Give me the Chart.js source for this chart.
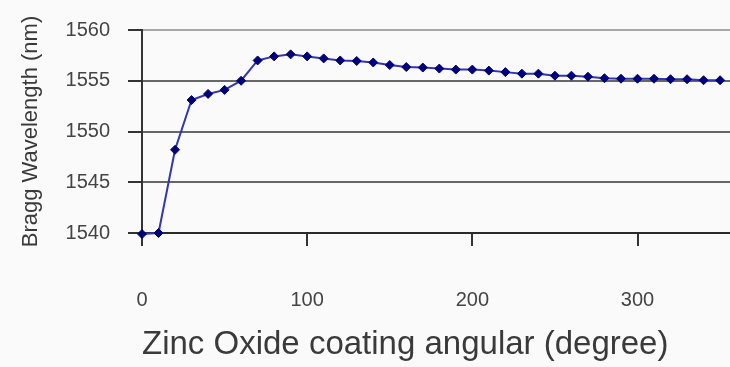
<!DOCTYPE html>
<html>
<head>
<meta charset="utf-8">
<script src="https://cdn.jsdelivr.net/npm/chart.js@4"></script>
<style>
  html, body { margin: 0; padding: 0; background: #fafafa; }
  #wrap { width: 730px; height: 367px; position: relative; }
</style>
</head>
<body>
<div id="wrap"><canvas id="braggChart"></canvas></div>
<script>
// coating angle (degree) and measured Bragg wavelength (nm)
const angles = [0, 10, 20, 30, 40, 50, 60, 70, 80, 90, 100, 110, 120, 130, 140, 150, 160, 170,
  180, 190, 200, 210, 220, 230, 240, 250, 260, 270, 280, 290, 300, 310, 320, 330, 340, 350];
const wavelengths = [1539.9, 1540.0, 1548.2, 1553.1, 1553.7, 1554.1, 1555.0, 1557.0, 1557.4, 1557.6,
  1557.4, 1557.2, 1557.0, 1556.95, 1556.8, 1556.55, 1556.35, 1556.3, 1556.2, 1556.1, 1556.1, 1556.0,
  1555.85, 1555.7, 1555.7, 1555.5, 1555.5, 1555.4, 1555.25, 1555.2, 1555.2, 1555.2, 1555.15, 1555.15,
  1555.05, 1555.05];
const xTicks = [0, 100, 200, 300];
const yTicks = [1540, 1545, 1550, 1555, 1560];

const points = angles.map((a, i) => ({ x: a, y: wavelengths[i] }));
const font = "'Liberation Sans', Arial, sans-serif";

function gridColor(ctx) {
  const v = ctx.tick && ctx.tick.value;
  if (v === 1560) return "#a8a8a8";
  if (v === 1540) return "#2a2a2a";
  return "#666666";
}

new Chart(document.getElementById("braggChart"), {
  type: "scatter",
  data: {
    datasets: [{
      data: points,
      showLine: true,
      borderColor: "#3535b0",
      borderWidth: 2,
      pointStyle: "rectRot",
      pointRadius: 4.5,
      pointBackgroundColor: "#000078",
      pointBorderColor: "#000078",
      pointBorderWidth: 1,
      clip: false
    }]
  },
  options: {
    responsive: true,
    maintainAspectRatio: false,
    animation: false,
    layout: { autoPadding: false, padding: { top: 20, right: 0, left: 0, bottom: 0 } },
    plugins: { legend: { display: false }, tooltip: { enabled: false } },
    scales: {
      x: {
        type: "linear",
        min: 0,
        max: 356,
        afterBuildTicks: s => { s.ticks = xTicks.map(v => ({ value: v })); },
        afterFit: s => { s.height = 134; s.paddingRight = 0; s.paddingLeft = 0; },
        grid: { drawOnChartArea: false, drawTicks: true, tickLength: 13, tickColor: "#333", lineWidth: 2 },
        border: { display: true, color: "#2a2a2a", width: 2 },
        ticks: {
          padding: 42,
          color: "#444",
          font: { family: font, size: 20 },
          maxRotation: 0,
          callback: v => String(v)
        },
        title: {
          display: true,
          align: "start",
          text: "Zinc Oxide coating angular (degree)",
          color: "#3a3a3a",
          font: { family: font, size: 33 },
          padding: { top: 0, bottom: 2 }
        }
      },
      y: {
        min: 1540,
        max: 1560,
        afterBuildTicks: s => { s.ticks = yTicks.map(v => ({ value: v })); },
        afterFit: s => { s.width = 142; },
        grid: { color: gridColor, lineWidth: 2, tickLength: 14, tickColor: "#333" },
        border: { display: true, color: "#333", width: 2 },
        ticks: {
          padding: 18,
          color: "#444",
          font: { family: font, size: 20 },
          callback: v => String(v)
        },
        title: {
          display: true,
          text: "Bragg Wavelength (nm)",
          color: "#3a3a3a",
          font: { family: font, size: 22 },
          padding: { top: 18, bottom: 0 }
        }
      }
    }
  }
});
</script>
</body>
</html>
